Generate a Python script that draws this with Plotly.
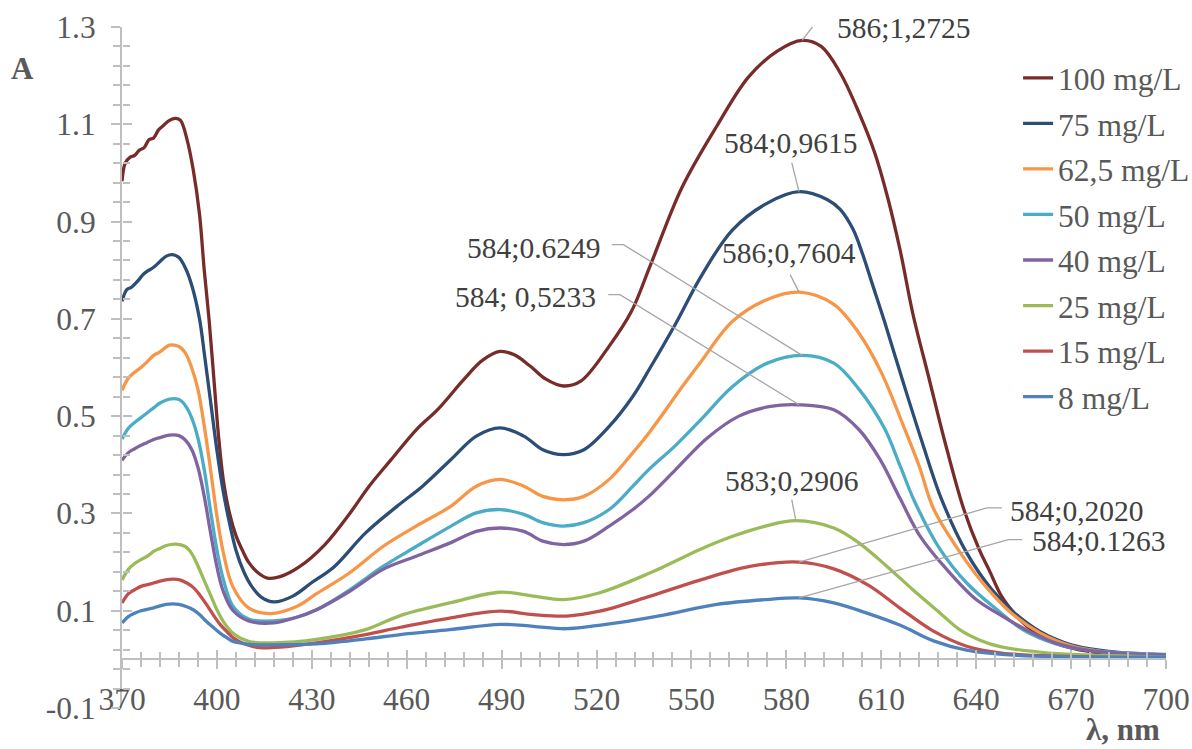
import plotly.graph_objects as go

# ---------------- data ----------------
wl_100 = [370, 371, 372.5, 374, 375.5, 377, 378.5, 380, 381.5, 383, 385, 387, 388.5, 390.5, 392.5, 394.5, 396,
          397.5, 399, 400.5, 402, 404, 406, 408, 410, 413, 416, 420, 426, 434, 442, 448, 455, 463, 470, 478,
          484, 489.5, 494, 499, 504, 509.5, 515, 524, 531, 537, 547, 558, 568, 577, 585, 591, 597, 603, 608,
          612, 616, 620, 625, 630, 636, 641, 644, 648, 652, 656, 662, 669, 677, 685, 700]
a_100 = [0.983, 1.02, 1.032, 1.036, 1.047, 1.052, 1.068, 1.072, 1.088, 1.097, 1.108, 1.112, 1.108, 1.070,
         1.007, 0.915, 0.80, 0.70, 0.58, 0.46, 0.37, 0.30, 0.255, 0.225, 0.20, 0.178, 0.167, 0.170, 0.19,
         0.235, 0.30, 0.355, 0.41, 0.472, 0.515, 0.575, 0.615, 0.633, 0.626, 0.603, 0.576, 0.562, 0.572, 0.644,
         0.715, 0.81, 0.97, 1.096, 1.197, 1.25, 1.2725, 1.26, 1.206, 1.123, 1.04, 0.95, 0.84, 0.71, 0.58,
         0.45, 0.31, 0.225, 0.185, 0.13, 0.095, 0.068, 0.042, 0.025, 0.015, 0.011, 0.008]

wl_75 = [370, 371.5, 373, 375, 376.5, 378, 380, 382, 384, 386, 388, 390, 392, 394.5, 396, 398, 400, 402, 404,
         406, 408.5, 411, 414, 418, 424, 430, 437, 447, 457, 465, 474, 482, 489.5, 497, 503, 509.5, 516, 524,
         531.5, 537, 545, 553, 563, 574, 584, 593, 597, 601, 604, 607, 611, 617, 623, 629, 637, 645, 652, 660,
         670, 680, 690, 700]
a_75 = [0.736, 0.76, 0.765, 0.778, 0.79, 0.798, 0.806, 0.818, 0.829, 0.832, 0.826, 0.805, 0.77, 0.70, 0.63,
        0.53, 0.43, 0.345, 0.28, 0.225, 0.18, 0.15, 0.128, 0.118, 0.13, 0.158, 0.19, 0.26, 0.315, 0.356, 0.411,
        0.459, 0.476, 0.459, 0.431, 0.421, 0.431, 0.479, 0.541, 0.60, 0.69, 0.787, 0.883, 0.938, 0.9615, 0.945,
        0.925, 0.885, 0.835, 0.775, 0.695, 0.568, 0.445, 0.33, 0.219, 0.143, 0.096, 0.058, 0.03, 0.018, 0.012,
        0.009]

wl_62 = [370, 372, 374, 376, 378, 380, 382, 385, 388, 390, 392, 394, 396, 398, 400, 402, 405, 410, 417, 425,
         431.5, 442, 452.5, 463, 474, 482, 489.5, 497, 503, 509.5, 516, 524, 531.5, 536.5, 541, 547, 553, 563,
         574, 584, 595, 603, 610, 617, 622, 626.5, 635, 643, 651, 660, 670, 680, 690, 700]
a_62 = [0.553, 0.578, 0.59, 0.60, 0.612, 0.625, 0.632, 0.646, 0.643, 0.63, 0.60, 0.555, 0.48, 0.39, 0.295,
        0.22, 0.15, 0.106, 0.094, 0.108, 0.135, 0.178, 0.232, 0.274, 0.315, 0.356, 0.370, 0.356, 0.335, 0.328,
        0.335, 0.370, 0.425, 0.465, 0.505, 0.56, 0.612, 0.695, 0.74, 0.755, 0.73, 0.67, 0.59, 0.48, 0.397,
        0.31, 0.219, 0.15, 0.096, 0.055, 0.028, 0.016, 0.011, 0.009]

wl_50 = [370, 372, 374, 376, 378, 380, 382, 385, 388, 390, 392, 394, 396, 398, 400, 402, 405, 410, 418, 425,
         431.5, 442, 452.5, 463, 474, 482, 489.5, 497, 503, 509.5, 516, 524, 531.5, 536.5, 545, 553, 563, 574,
         585, 595, 603, 611, 616, 620.5, 628.6, 637, 646.6, 655, 665, 675, 690, 700]
a_50 = [0.453, 0.475, 0.487, 0.497, 0.507, 0.517, 0.527, 0.535, 0.534, 0.522, 0.497, 0.455, 0.39, 0.305,
        0.225, 0.165, 0.11, 0.083, 0.079, 0.086, 0.102, 0.143, 0.191, 0.232, 0.274, 0.301, 0.308, 0.298, 0.281,
        0.274, 0.281, 0.308, 0.356, 0.39, 0.44, 0.493, 0.561, 0.609, 0.6249, 0.609, 0.555, 0.475, 0.397,
        0.325, 0.226, 0.157, 0.102, 0.06, 0.032, 0.019, 0.012, 0.01]

wl_40 = [370, 372, 374, 376, 378, 380, 382, 385, 388, 390, 392, 394, 396, 398, 400, 402, 405, 410, 418, 425,
         431.5, 442, 452.5, 463, 474, 482, 489.5, 497, 503, 509.5, 516, 524, 531.5, 536.5, 545, 555, 565, 575,
         584, 595, 603, 609.6, 616, 622.3, 630.7, 640, 648, 656, 665, 675, 690, 700]
a_40 = [0.409, 0.425, 0.433, 0.44, 0.446, 0.452, 0.456, 0.461, 0.46, 0.451, 0.432, 0.395, 0.335, 0.26, 0.19,
        0.14, 0.101, 0.079, 0.075, 0.086, 0.102, 0.14, 0.185, 0.212, 0.24, 0.263, 0.270, 0.263, 0.243, 0.236,
        0.243, 0.274, 0.308, 0.335, 0.39, 0.455, 0.50, 0.52, 0.5233, 0.513, 0.472, 0.411, 0.33, 0.253, 0.185,
        0.123, 0.09, 0.06, 0.034, 0.019, 0.011, 0.009]

wl_25 = [370, 372, 374, 376, 378, 380, 382, 384, 387, 390, 392, 394, 396, 398, 400, 402, 405, 410, 418, 431.5,
         447, 458, 473.6, 489.5, 500, 509.5, 521, 537, 552.7, 563, 574, 583, 595, 603, 612, 620, 628.6, 635,
         641, 647.6, 663, 680, 700]
a_25 = [0.163, 0.185, 0.197, 0.205, 0.212, 0.222, 0.228, 0.234, 0.237, 0.232, 0.218, 0.192, 0.162, 0.132,
        0.102, 0.078, 0.054, 0.037, 0.034, 0.041, 0.061, 0.09, 0.116, 0.138, 0.13, 0.123, 0.137, 0.178, 0.226,
        0.253, 0.275, 0.285, 0.270, 0.239, 0.19, 0.143, 0.095, 0.06, 0.04, 0.026, 0.013, 0.008, 0.005]

wl_15 = [370, 372, 374, 376, 379, 382, 386, 388, 390.5, 392.5, 394.5, 397, 399, 401, 403, 405, 407, 410, 413.6,
         420, 431.5, 447, 458, 473.6, 489.5, 500, 510.5, 521, 537, 552.7, 568.5, 584, 595, 606, 616, 626.5, 637,
         648, 668, 700]
a_15 = [0.116, 0.135, 0.143, 0.150, 0.155, 0.161, 0.165, 0.164, 0.157, 0.148, 0.133, 0.11, 0.09, 0.072, 0.058,
        0.045, 0.037, 0.029, 0.024, 0.025, 0.034, 0.051, 0.066, 0.085, 0.099, 0.092, 0.089, 0.099, 0.130,
        0.163, 0.191, 0.2, 0.186, 0.152, 0.105, 0.058, 0.027, 0.013, 0.006, 0.002]

wl_8 = [370, 372, 374, 376, 380, 384, 388, 390.5, 392.5, 394.5, 396.7, 399, 401, 403, 405, 408, 411.4, 421,
        431.5, 447, 458, 473.6, 489.5, 500, 510.5, 526.4, 542, 558, 573.8, 584, 595, 605, 616, 626.5, 637, 653,
        700]
a_8 = [0.075, 0.088, 0.095, 0.100, 0.106, 0.113, 0.113, 0.108, 0.102, 0.092, 0.078, 0.065, 0.054, 0.045, 0.037,
       0.033, 0.030, 0.030, 0.032, 0.042, 0.051, 0.061, 0.072, 0.068, 0.063, 0.075, 0.092, 0.113, 0.123, 0.1263,
       0.116, 0.096, 0.07, 0.038, 0.019, 0.008, 0.005]

series_names = ["100 mg/L", "75 mg/L", "62,5 mg/L", "50 mg/L", "40 mg/L", "25 mg/L", "15 mg/L", "8 mg/L"]
series_wl = [wl_100, wl_75, wl_62, wl_50, wl_40, wl_25, wl_15, wl_8]
series_a = [a_100, a_75, a_62, a_50, a_40, a_25, a_15, a_8]
series_colors = ["#772C2A", "#2C4D75", "#F79646", "#4BACC6", "#8064A2", "#9BBB59", "#C0504D", "#4F81BD"]

peak_labels = ["586;1,2725", "584;0,9615", "586;0,7604", "584;0.6249", "584; 0,5233",
               "583;0,2906", "584;0,2020", "584;0.1263"]

x_tick_vals = [370, 400, 430, 460, 490, 520, 550, 580, 610, 640, 670, 700]
x_tick_text = ["370", "400", "430", "460", "490", "520", "550", "580", "610", "640", "670", "700"]
y_tick_vals = [-0.1, 0.1, 0.3, 0.5, 0.7, 0.9, 1.1, 1.3]
y_tick_text = ["-0.1", "0.1", "0.3", "0.5", "0.7", "0.9", "1.1", "1.3"]

# ---------------- layout helpers (label placement, not data) ----------------
# (text x, text y, xanchor, leader elbow points from text toward the peak)
label_layout = [
    (595.4, 1.298, "left", [(592.8, 1.303), (588.6, 1.303)]),
    (581.4, 1.062, "center", [(581.7, 1.021)]),
    (580.9, 0.835, "center", [(581.2, 0.791)]),
    (522.0, 0.8465, "right", [(524.8, 0.8527), (528.5, 0.8527)]),
    (520.5, 0.7457, "right", [(523.7, 0.7499), (527.4, 0.7499)]),
    (581.7, 0.3675, "center", [(581.7, 0.3285)]),
    (650.2, 0.3059, "left", [(648.1, 0.3114), (643.4, 0.3114)]),
    (657.1, 0.2442, "left", [(654.5, 0.2463), (650.2, 0.2463)]),
]

FONT = "Liberation Serif"
AXIS_GREY = "#BFBFBF"
TEXT_GREY = "#595959"
XR = [370, 700]
YR = [-0.1, 1.3]
X_POS = (0 - YR[0]) / (YR[1] - YR[0])

fig = go.Figure()

for i, (name, wl, a, col) in enumerate(zip(series_names, series_wl, series_a, series_colors)):
    fig.add_trace(go.Scatter(
        x=wl, y=a, mode="lines", name=name, legendgroup=f"g{i}",
        line=dict(color=col, width=3.3, shape="spline", smoothing=1.0),
        hoverinfo="skip",
    ))

# leader lines (on overlay axes, drawn above curves)
annotations = []
for (tx, ty, xa, elbows), wl, a, txt in zip(label_layout, series_wl, series_a, peak_labels):
    k = max(range(len(a)), key=lambda j: a[j])
    px_, py_ = wl[k], a[k]
    lx = [p[0] for p in elbows] + [px_]
    ly = [p[1] for p in elbows] + [py_]
    fig.add_trace(go.Scatter(
        x=lx, y=ly, mode="lines", xaxis="x2", yaxis="y2", showlegend=False,
        line=dict(color="#A6A6A6", width=1.3), hoverinfo="skip",
    ))
    annotations.append(dict(
        x=tx, y=ty, xref="x", yref="y", text=txt, showarrow=False,
        xanchor=xa, yanchor="middle",
        font=dict(family=FONT, size=29.5, color="#404040"),
    ))

annotations.append(dict(
    x=-0.0952, y=0.939, xref="paper", yref="paper", text="<b>A</b>", showarrow=False,
    xanchor="center", yanchor="middle", font=dict(family=FONT, size=31, color=TEXT_GREY)))
annotations.append(dict(
    x=0.9586, y=-0.031, xref="paper", yref="paper", text="<b>λ, nm</b>", showarrow=False,
    xanchor="center", yanchor="middle", font=dict(family=FONT, size=31, color=TEXT_GREY)))

tickfont = dict(family=FONT, size=31.5, color=TEXT_GREY)

fig.update_layout(
    width=1192, height=749,
    margin=dict(l=122, r=26, t=27, b=41, autoexpand=False),
    paper_bgcolor="white", plot_bgcolor="white",
    showlegend=True,
    legend=dict(
        x=0.8583, y=0.965, xanchor="left", yanchor="top",
        font=dict(family=FONT, size=31.5, color=TEXT_GREY),
        bgcolor="rgba(0,0,0,0)", tracegroupgap=1.6, traceorder="grouped",
    ),
    annotations=annotations,
    xaxis=dict(
        range=XR, anchor="free", position=X_POS, automargin=False,
        showline=True, linecolor=AXIS_GREY, linewidth=2,
        showgrid=False, zeroline=False,
        tickmode="array", tickvals=x_tick_vals, ticktext=x_tick_text,
        ticks="outside", ticklen=9, tickwidth=2, tickcolor=AXIS_GREY,
        minor=dict(tickmode="linear", tick0=370, dtick=6, ticks="outside", ticklen=7,
                   tickwidth=1.5, tickcolor=AXIS_GREY, showgrid=False),
        tickfont=tickfont, ticklabelstandoff=3,
    ),
    yaxis=dict(
        range=YR, anchor="x", side="left", automargin=False,
        showline=True, linecolor=AXIS_GREY, linewidth=2,
        showgrid=False, zeroline=False,
        tickmode="array", tickvals=y_tick_vals, ticktext=y_tick_text,
        ticks="outside", ticklen=9, tickwidth=2, tickcolor=AXIS_GREY,
        minor=dict(tickmode="linear", tick0=-0.1, dtick=0.04, ticks="outside", ticklen=7,
                   tickwidth=1.5, tickcolor=AXIS_GREY, showgrid=False),
        tickfont=tickfont, ticklabelstandoff=9,
    ),
    xaxis2=dict(
        range=XR, overlaying="x", anchor="free", position=X_POS, automargin=False,
        showline=False, showgrid=False, zeroline=False, showticklabels=False,
        tickmode="linear", tick0=370, dtick=30,
        ticks="inside", ticklen=9, tickwidth=2, tickcolor=AXIS_GREY,
        minor=dict(tickmode="linear", tick0=370, dtick=6, ticks="inside", ticklen=7,
                   tickwidth=1.5, tickcolor=AXIS_GREY, showgrid=False),
    ),
    yaxis2=dict(
        range=YR, overlaying="y", anchor="free", position=0, side="left", automargin=False,
        showline=False, showgrid=False, zeroline=False, showticklabels=False,
        tickmode="linear", tick0=-0.1, dtick=0.2,
        ticks="inside", ticklen=9, tickwidth=2, tickcolor=AXIS_GREY,
        minor=dict(tickmode="linear", tick0=-0.1, dtick=0.04, ticks="inside", ticklen=7,
                   tickwidth=1.5, tickcolor=AXIS_GREY, showgrid=False),
    ),
)

# remove the default 8px page margin so the 1192x749 figure fills the window exactly
page_fix = ("document.body.style.margin='0';document.body.style.padding='0';"
            "document.body.style.overflow='hidden';document.documentElement.style.overflow='hidden';")

fig.write_html("out.html", post_script=page_fix, config={"displayModeBar": False})
